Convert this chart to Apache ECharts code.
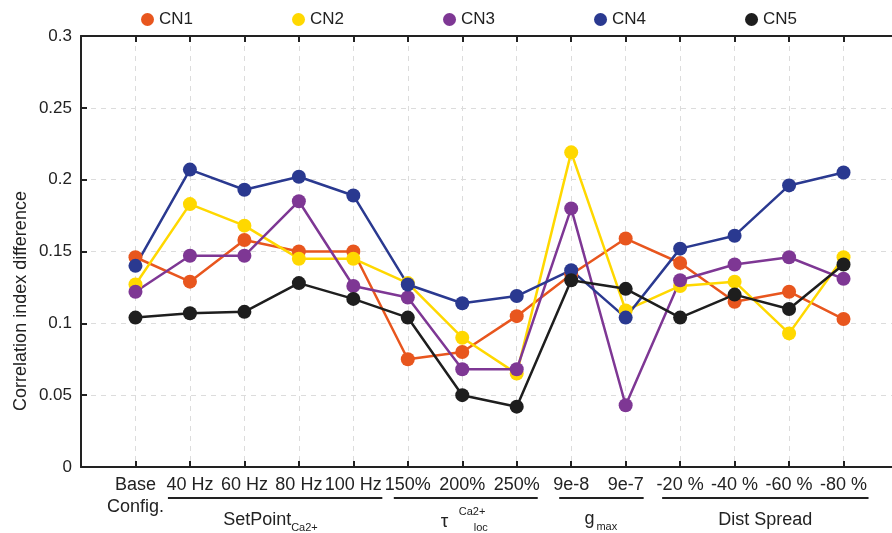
<!DOCTYPE html>
<html>
<head>
<meta charset="utf-8">
<script src="https://cdn.jsdelivr.net/npm/echarts@6/dist/echarts.min.js"></script>
<style>
  html, body { margin: 0; padding: 0; background: #fff; }
  #chart { width: 892px; height: 533px; }
</style>
</head>
<body>
<div id="chart"></div>
<script>
// categories along x (positions 1..14 on the x scale)
var categories = ['Base\nConfig.', '40 Hz', '60 Hz', '80 Hz', '100 Hz', '150%', '200%', '250%',
                  '9e-8', '9e-7', '-20 %', '-40 %', '-60 %', '-80 %'];

var seriesNames = ['CN1', 'CN2', 'CN3', 'CN4', 'CN5'];
var cn1 = [0.146, 0.129, 0.158, 0.150, 0.150, 0.075, 0.080, 0.105, 0.134, 0.159, 0.142, 0.115, 0.122, 0.103];
var cn2 = [0.127, 0.183, 0.168, 0.145, 0.145, 0.128, 0.090, 0.065, 0.219, 0.109, 0.126, 0.129, 0.093, 0.146];
var cn3 = [0.122, 0.147, 0.147, 0.185, 0.126, 0.118, 0.068, 0.068, 0.180, 0.043, 0.130, 0.141, 0.146, 0.131];
var cn4 = [0.140, 0.207, 0.193, 0.202, 0.189, 0.127, 0.114, 0.119, 0.137, 0.104, 0.152, 0.161, 0.196, 0.205];
var cn5 = [0.104, 0.107, 0.108, 0.128, 0.117, 0.104, 0.050, 0.042, 0.130, 0.124, 0.104, 0.120, 0.110, 0.141];

// parameter groups under the axis: first/last category index (1-based)
var groups = [
    { from: 2, to: 5, key: 'setpoint' },
    { from: 6, to: 8, key: 'tau' },
    { from: 9, to: 10, key: 'gmax' },
    { from: 11, to: 14, key: 'dist' }
];
// how far each bracket sticks out past its first / last category (px)
var bracketPads = [[-22, 29], [-14, 21], [-12, 18], [-18, 25]];

var colors = ['#E8561E', '#FFD800', '#7E3794', '#2A3990', '#1E1E1E'];
var font = 'Liberation Sans, Arial, Helvetica, sans-serif';
var ink = '#222';

var allData = [cn1, cn2, cn3, cn4, cn5];
var series = allData.map(function (vals, k) {
    return {
        name: seriesNames[k],
        type: 'line',
        xAxisIndex: 0,
        yAxisIndex: 0,
        data: vals.map(function (v, i) { return [i + 1, v]; }),
        symbol: 'circle',
        symbolSize: 14,
        lineStyle: { width: 2.5, color: colors[k] },
        itemStyle: { color: colors[k] },
        emphasis: { disabled: true },
        animation: false
    };
});

var frameLine = { show: true, onZero: false, lineStyle: { color: ink, width: 2 } };
var tickStyle = { show: true, inside: true, length: 6, lineStyle: { color: ink, width: 2 } };
var dashed = { show: true, lineStyle: { color: '#dcdcdc', type: [5, 5], width: 1 } };

var option = {
    animation: false,
    color: colors,
    textStyle: { fontFamily: font },
    legend: {
        data: seriesNames,
        icon: 'circle',
        left: 136,
        top: 6,
        itemWidth: 13,
        itemHeight: 13,
        itemGap: 99,
        textStyle: { fontSize: 17, color: ink, fontFamily: font }
    },
    grid: {
        left: 81, top: 36, right: -6, bottom: 66,
        outerBoundsMode: 'none',
        containLabel: false,
        show: false
    },
    xAxis: [{
        type: 'value', min: 0, max: 15, interval: 1, position: 'bottom',
        axisLine: frameLine,
        axisTick: tickStyle,
        splitLine: dashed,
        axisLabel: {
            margin: 7, fontSize: 18, color: ink, lineHeight: 22, fontFamily: font,
            formatter: function (v) { return categories[v - 1] || ''; }
        }
    }, {
        type: 'value', min: 0, max: 15, interval: 1, position: 'top',
        axisLine: frameLine, axisTick: tickStyle,
        splitLine: { show: false }, axisLabel: { show: false }
    }],
    yAxis: [{
        type: 'value', min: 0, max: 0.3, interval: 0.05, position: 'left',
        axisLine: frameLine,
        axisTick: tickStyle,
        splitLine: dashed,
        axisLabel: { margin: 9, fontSize: 17, color: ink, fontFamily: font }
    }, {
        type: 'value', min: 0, max: 0.3, interval: 0.05, position: 'right',
        axisLine: frameLine, axisTick: tickStyle,
        splitLine: { show: false }, axisLabel: { show: false }
    }],
    series: series
};

var chart = echarts.init(document.getElementById('chart'), null, { renderer: 'canvas' });
chart.setOption(option);

function txt(x, y, s, size, align) {
    return {
        type: 'text', x: x, y: y, silent: true,
        style: { text: s, font: size + 'px ' + font, fill: ink, align: align || 'left', verticalAlign: 'middle' }
    };
}

// y axis title (sits a little below the middle of the axis, as in the source)
var gfx = [{
    type: 'text', x: 21, y: 301, rotation: Math.PI / 2, silent: true,
    style: { text: 'Correlation index difference', font: '18px ' + font, fill: ink, align: 'center', verticalAlign: 'middle' }
}];

// group brackets and labels under the category labels
var lineY = 498;
var textY = 520;
groups.forEach(function (g, gi) {
    var x1 = chart.convertToPixel({ xAxisIndex: 0 }, g.from) + bracketPads[gi][0];
    var x2 = chart.convertToPixel({ xAxisIndex: 0 }, g.to) + bracketPads[gi][1];
    var cx = (x1 + x2) / 2;
    gfx.push({
        type: 'line', silent: true,
        shape: { x1: x1, y1: lineY, x2: x2, y2: lineY },
        style: { stroke: ink, lineWidth: 2 }
    });
    if (g.key === 'setpoint') {
        gfx.push(txt(cx - 52, textY, 'SetPoint', 18));
        gfx.push(txt(cx + 16, textY + 8, 'Ca2+', 11));
    } else if (g.key === 'tau') {
        gfx.push(txt(cx - 25, textY + 2, 'τ', 19));
        gfx.push(txt(cx - 7, textY - 8, 'Ca2+', 11));
        gfx.push(txt(cx + 8, textY + 8, 'loc', 11));
    } else if (g.key === 'gmax') {
        gfx.push(txt(cx - 17, textY - 1, 'g', 18));
        gfx.push(txt(cx - 5, textY + 7, 'max', 11));
    } else {
        gfx.push(txt(cx, textY, 'Dist Spread', 18, 'center'));
    }
});
chart.setOption({ graphic: gfx });
</script>
</body>
</html>
